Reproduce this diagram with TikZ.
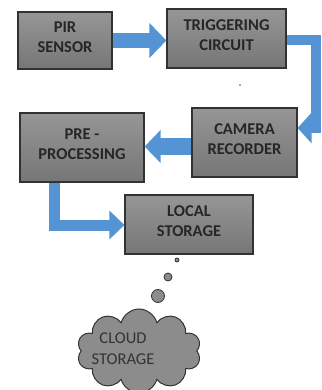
\documentclass[tikz,border=0pt]{standalone}
\usepackage{fontspec}
\setmainfont{Carlito}
\usetikzlibrary{arrows.meta, shapes.symbols}

\definecolor{flowblue}{RGB}{84,148,212}
\definecolor{boxline}{RGB}{50,50,50}
\definecolor{boxtop}{RGB}{150,150,150}
\definecolor{boxbot}{RGB}{118,118,118}
\definecolor{cloudfill}{RGB}{140,140,140}

\begin{document}
\begin{tikzpicture}[x=1pt,y=-1pt,
  block/.style={rectangle,draw=boxline,line width=1.2pt,top color=boxtop,bottom color=boxbot,
    align=center,font=\bfseries\fontsize{16.5}{20}\selectfont,text=black!85,text depth=7pt,inner sep=0pt},
  flow/.style={draw=flowblue,line width=#1,line join=miter},
  bubble/.style={circle,draw=boxline,fill=cloudfill,line width=0.8pt,inner sep=0pt}]
  \useasboundingbox (0,0) rectangle (321,390);

  \node[block, minimum width=94pt, minimum height=57pt] (pir) at (65,40.5) {PIR\\SENSOR};
  \node[block, minimum width=119pt, minimum height=59pt] (trig) at (226.5,38.5) {TRIGGERING\\CIRCUIT};
  \node[block, minimum width=105pt, minimum height=69pt] (cam) at (244.5,142.5) {CAMERA\\RECORDER};
  \node[block, minimum width=124pt, minimum height=69pt] (pre) at (82,147.5) {PRE -\\PROCESSING};
  \node[block, minimum width=128pt, minimum height=59pt] (local) at (189,224.5) {LOCAL\\STORAGE};

  \node[bubble, minimum size=4pt] (b1) at (177,260) {};
  \node[bubble, minimum size=8pt] (b2) at (168,277) {};
  \node[bubble, minimum size=13pt] (b3) at (158,296) {};
  \node[cloud, cloud puffs=10, aspect=1.6, draw=boxline, fill=cloudfill, line width=1pt,
    minimum width=124pt, minimum height=84pt] (cloud) at (139,351) {};
  \node[font=\fontsize{16.5}{21}\selectfont, text=black!80, align=center] (cloudtxt) at (123,349) {CLOUD\\STORAGE};
  \fill[black!70] (240,85) circle (0.8pt);

  \coordinate (c1) at (316,40);
  \coordinate (c2) at (316,128);
  \coordinate (c3) at (54,225);

  \draw[flow=15pt, -{Triangle[length=17pt,width=34pt]}] (pir.east |- 0,40.5) -- (trig.west |- 0,40.5);
  \draw[flow=10pt, -{Triangle[length=14pt,width=30pt]}] (trig.east |- c1) -- (c1) -- (c2) -- (cam.east |- c2);
  \draw[flow=16pt, -{Triangle[length=16pt,width=32pt]}] (cam.west |- 0,146.5) -- (pre.east |- 0,146.5);
  \draw[flow=11pt, -{Triangle[length=15pt,width=28pt]}] (pre.south -| c3) -- (c3) -- (local.west |- c3);
\end{tikzpicture}
\end{document}
